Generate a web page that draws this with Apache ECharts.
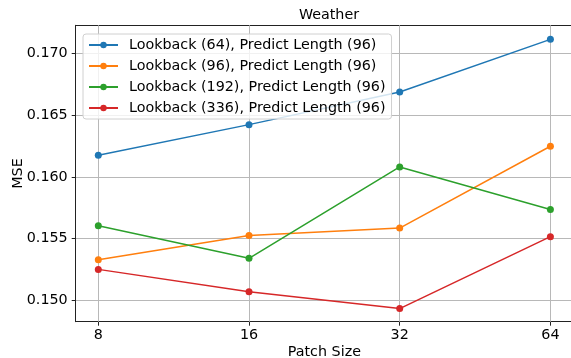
<!DOCTYPE html>
<html>
<head>
<meta charset="utf-8">
<script src="https://cdn.jsdelivr.net/npm/echarts@6/dist/echarts.min.js"></script>
<style>
  html, body { margin: 0; padding: 0; background: #fff; }
  #chart { width: 571px; height: 358px; }
</style>
</head>
<body>
<div id="chart"></div>
<script>
// Patch sizes tested on the x axis
const patchSizes = ['8', '16', '32', '64'];

// MSE per lookback window (prediction length 96)
const lookback64 = [0.16175, 0.16423, 0.16688, 0.17114];
const lookback96 = [0.15328, 0.15525, 0.15585, 0.16248];
const lookback192 = [0.15604, 0.15340, 0.16080, 0.15735];
const lookback336 = [0.15250, 0.15068, 0.14932, 0.15515];

const seriesNames = [
  'Lookback (64), Predict Length (96)',
  'Lookback (96), Predict Length (96)',
  'Lookback (192), Predict Length (96)',
  'Lookback (336), Predict Length (96)'
];
const seriesValues = [lookback64, lookback96, lookback192, lookback336];
const colors = ['#1f77b4', '#ff7f0e', '#2ca02c', '#d62728'];

// y tick values
const yTicks = [0.150, 0.155, 0.160, 0.165, 0.170];
const xTicks = patchSizes.map((_, i) => i);

const FONT = 'DejaVu Sans';
const FS = 14.3;
const SPINE = { color: '#222', width: 1 };
const GRID_COLOR = '#b8b8b8';
const chart = echarts.init(document.getElementById('chart'), null, { renderer: 'canvas' });

const dataSeries = seriesNames.map((name, k) => ({
  name,
  type: 'line',
  z: 3,
  data: seriesValues[k].map((v, i) => [xTicks[i], v]),
  symbol: 'circle',
  symbolSize: 7,
  color: colors[k],
  lineStyle: { width: 1.5, color: colors[k] },
  itemStyle: { color: colors[k] }
}));

// vertical grid lines at the patch-size ticks, drawn beneath the data
const gridSeries = {
  type: 'line',
  z: 1,
  data: [],
  silent: true,
  markLine: {
    z: 1,
    silent: true,
    symbol: ['none', 'none'],
    label: { show: false },
    lineStyle: { color: GRID_COLOR, width: 1, type: 'solid' },
    emphasis: { disabled: true },
    data: xTicks.map(x => ({ xAxis: x }))
  }
};

chart.setOption({
  animation: false,
  backgroundColor: '#ffffff',
  title: {
    text: 'Weather',
    left: 324, top: 3, textAlign: 'center',
    textStyle: { fontFamily: FONT, fontSize: FS, fontWeight: 'normal', color: '#000' }
  },
  grid: {
    left: 75.7, right: -2, top: 25.3, bottom: 36.3,
    outerBoundsMode: 'none', containLabel: false
  },
  legend: {
    orient: 'vertical',
    left: 83, top: 34,
    itemWidth: 29, itemHeight: 8, itemGap: 7,
    padding: [4, 6, 4, 5],
    backgroundColor: 'rgba(255,255,255,0.8)',
    borderColor: '#d0d0d0', borderWidth: 1, borderRadius: 3,
    textStyle: { fontFamily: FONT, fontSize: FS, lineHeight: 14, color: '#000', padding: [0, 0, 0, 6] },
    data: seriesNames
  },
  xAxis: [{
    type: 'value',
    min: -0.15, max: 3.15,
    name: 'Patch Size', nameLocation: 'middle', nameGap: 24, nameMoveOverlap: false,
    nameTextStyle: { fontFamily: FONT, fontSize: FS, color: '#000', verticalAlign: 'top' },
    axisLine: { show: true, onZero: false, lineStyle: SPINE },
    axisTick: { show: true, length: 4, customValues: xTicks, lineStyle: { color: '#222' } },
    axisLabel: {
      customValues: xTicks, margin: 7,
      fontFamily: FONT, fontSize: FS, color: '#000',
      formatter: v => patchSizes[Math.round(v)]
    },
    splitLine: { show: false }
  }, {
    // top spine
    type: 'value', position: 'top',
    min: -0.15, max: 3.15,
    axisLine: { show: true, onZero: false, lineStyle: SPINE },
    axisTick: { show: false }, axisLabel: { show: false }, splitLine: { show: false }
  }],
  yAxis: {
    type: 'value',
    min: 0.14826, max: 0.17228,
    name: 'MSE', nameLocation: 'middle', nameGap: 50, nameMoveOverlap: false,
    nameTextStyle: { fontFamily: FONT, fontSize: FS, color: '#000' },
    axisLine: { show: true, onZero: false, lineStyle: SPINE },
    axisTick: { show: true, length: 4, customValues: yTicks, lineStyle: { color: '#222' } },
    axisLabel: {
      customValues: yTicks, margin: 8,
      fontFamily: FONT, fontSize: FS, color: '#000',
      formatter: v => v.toFixed(3)
    },
    splitLine: { show: true, lineStyle: { color: GRID_COLOR, width: 1 } }
  },
  series: [gridSeries].concat(dataSeries)
});
</script>
</body>
</html>
